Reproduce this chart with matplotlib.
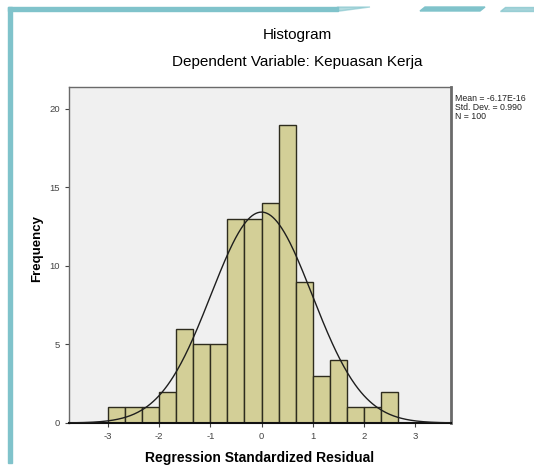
import numpy as np
import matplotlib.pyplot as plt
from matplotlib.patches import Rectangle, Polygon

# histogram data
bin_start = -3.0
bin_width = 1.0 / 3.0
counts = [1, 1, 1, 2, 6, 5, 5, 13, 13, 14, 19, 9, 3, 4, 1, 1, 2]
mean = -6.17e-16
std_dev = 0.990
n_obs = 100

x_ticks = [-3, -2, -1, 0, 1, 2, 3]
y_ticks = [0, 5, 10, 15, 20]

plt.rcParams['font.family'] = ['Liberation Sans', 'DejaVu Sans']
plt.rcParams['axes.unicode_minus'] = False

fig = plt.figure(figsize=(5.34, 4.67), dpi=100)
W, H = 534, 467

# decorative teal frame
teal = '#80c3cb'
fig.patches.append(Rectangle((8 / W, 1 - 463 / H), 4 / W, 456 / H, transform=fig.transFigure,
                             color=teal, zorder=0))
fig.patches.append(Rectangle((8 / W, 1 - 11 / H), 330 / W, 4 / H, transform=fig.transFigure,
                             color=teal, zorder=0))
fig.patches.append(Polygon([(338 / W, 1 - 7 / H), (370 / W, 1 - 7 / H), (340 / W, 1 - 11 / H),
                            (330 / W, 1 - 11 / H)], closed=True, transform=fig.transFigure,
                           color=teal, alpha=0.6, zorder=0))
fig.patches.append(Polygon([(425 / W, 1 - 7 / H), (485 / W, 1 - 7 / H), (480 / W, 1 - 11 / H),
                            (420 / W, 1 - 11 / H)], closed=True, transform=fig.transFigure,
                           color=teal, zorder=0))
fig.patches.append(Polygon([(505 / W, 1 - 7 / H), (534 / W, 1 - 7 / H), (534 / W, 1 - 11 / H),
                            (500 / W, 1 - 11 / H)], closed=True, transform=fig.transFigure,
                           color=teal, alpha=0.7, zorder=0))

ax = fig.add_axes([69 / W, 1 - 423 / H, (451 - 69) / W, (423 - 87) / H])
ax.set_facecolor('#f0f0f0')

edges = bin_start + bin_width * np.arange(len(counts) + 1)
ax.bar(edges[:-1], counts, width=bin_width, align='edge', color='#d3cf97',
       edgecolor='#2e2c1e', linewidth=1.0, zorder=2)

# normal curve from the stated stats
xs = np.linspace(-3.76, 3.70, 400)
ys = n_obs * bin_width / (std_dev * np.sqrt(2 * np.pi)) * np.exp(-0.5 * ((xs - mean) / std_dev) ** 2)
ax.plot(xs, ys, color='#1e1e1e', linewidth=1.0, zorder=3)

ax.set_xlim(-3.76, 3.70)
ax.set_ylim(0, 21.4)
ax.set_xticks(x_ticks)
ax.set_yticks(y_ticks)
ax.tick_params(labelsize=6.8, colors='#444444', length=3, width=0.8)
for s in ['left', 'top', 'right']:
    ax.spines[s].set_color('#6a6a6a')
    ax.spines[s].set_linewidth(1.0)
ax.spines['right'].set_linewidth(2.0)
ax.spines['bottom'].set_color('#111111')
ax.spines['bottom'].set_linewidth(1.5)

ax.set_xlabel('Regression Standardized Residual', fontsize=10, fontweight='bold', labelpad=7)
ax.set_ylabel('Frequency', fontsize=9.5, fontweight='bold')
ax.yaxis.set_label_coords(-0.068, 0.52)

fig.text(297 / W, 1 - 35 / H, 'Histogram', ha='center', va='center', fontsize=11)
fig.text(297 / W, 1 - 62 / H, 'Dependent Variable: Kepuasan Kerja', ha='center', va='center',
         fontsize=11)

fig.text(455 / W, 1 - 94 / H, 'Mean = -6.17E-16\nStd. Dev. = 0.990\nN = 100',
         ha='left', va='top', fontsize=6.3, color='#222222', linespacing=1.0)

fig.savefig('out.png', dpi=100)
